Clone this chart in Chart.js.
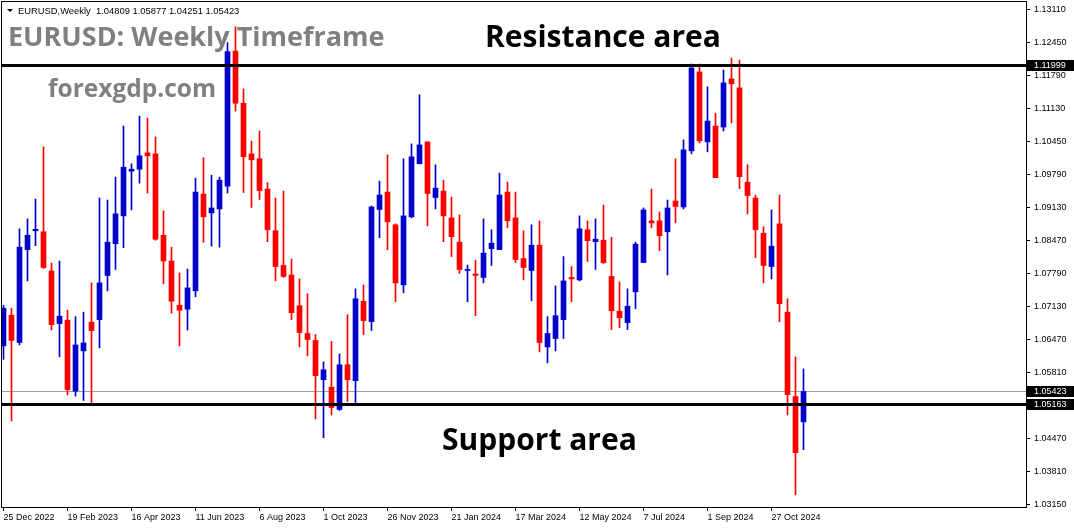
<!DOCTYPE html>
<html>
<head>
<meta charset="utf-8">
<script src="https://cdn.jsdelivr.net/npm/chart.js@4.4.1/dist/chart.umd.min.js"></script>
<style>
html, body { margin: 0; padding: 0; background: #fff; }
canvas { display: block; }
</style>
</head>
<body>
<canvas id="chart" width="1074" height="528"></canvas>
<script>
// weekly EURUSD candles, 25 Dec 2022 .. 24 Nov 2024
const opens = [
  1.0634, 1.0696, 1.0641, 1.0828, 1.0866, 1.0864, 1.0785, 1.0679, 1.0686, 1.0543,
  1.0624, 1.0682, 1.0687, 1.0776, 1.0840, 1.0896, 1.0986, 1.0990, 1.1023, 1.1021,
  1.0857, 1.0805, 1.0716, 1.0708, 1.0745, 1.0940, 1.0902, 1.0910, 1.0956, 1.1228,
  1.1123, 1.1021, 1.1011, 1.0950, 1.0866, 1.0796, 1.0777, 1.0715, 1.0659, 1.0645,
  1.0566, 1.0551, 1.0506, 1.0596, 1.0564, 1.0724, 1.0683, 1.0909, 1.0944, 1.0878,
  1.0757, 1.0894, 1.1001, 1.1045, 1.0933, 1.0946, 1.0892, 1.0843, 1.0786, 1.0779,
  1.0772, 1.0830, 1.0828, 1.0944, 1.0892, 1.0810, 1.0786, 1.0837, 1.0632, 1.0649,
  1.0687, 1.0772, 1.0767, 1.0868, 1.0844, 1.0847, 1.0774, 1.0704, 1.0681, 1.0743,
  1.0802, 1.0886, 1.0886, 1.0864, 1.0926, 1.0914, 1.1027, 1.1186, 1.1045, 1.1077,
  1.1075, 1.1172, 1.1154, 1.0964, 1.0932, 1.0861, 1.0794, 1.0880, 1.0702, 1.0532,
  1.04809
];
const highs = [
  1.0716, 1.0710, 1.0870, 1.0890, 1.0930, 1.1035, 1.0801, 1.0805, 1.0706, 1.0693,
  1.0702, 1.0761, 1.0932, 1.0928, 1.0974, 1.1077, 1.1001, 1.1097, 1.1093, 1.1055,
  1.0906, 1.0833, 1.0781, 1.0789, 1.0972, 1.1013, 1.0978, 1.0974, 1.1245, 1.1277,
  1.1152, 1.1047, 1.1067, 1.0963, 1.0932, 1.0946, 1.0809, 1.0769, 1.0739, 1.0657,
  1.0602, 1.0643, 1.0618, 1.0697, 1.0749, 1.0757, 1.0916, 1.0966, 1.1019, 1.0880,
  1.1011, 1.1041, 1.1140, 1.1045, 1.0999, 1.0968, 1.0934, 1.0898, 1.0797, 1.0807,
  1.0890, 1.0868, 1.0982, 1.0964, 1.0944, 1.0866, 1.0878, 1.0886, 1.0693, 1.0755,
  1.0814, 1.0794, 1.0896, 1.0886, 1.0890, 1.0918, 1.0853, 1.0763, 1.0749, 1.0843,
  1.0912, 1.0950, 1.0904, 1.0928, 1.1011, 1.1049, 1.1202, 1.1202, 1.1156, 1.1103,
  1.1190, 1.1214, 1.1210, 1.0999, 1.0938, 1.0874, 1.0908, 1.0938, 1.0729, 1.0612,
  1.05877
];
const lows = [
  1.0607, 1.0483, 1.0636, 1.0765, 1.0836, 1.0790, 1.0666, 1.0612, 1.0535, 1.0533,
  1.0524, 1.0518, 1.0630, 1.0745, 1.0788, 1.0832, 1.0908, 1.0962, 1.0942, 1.0847,
  1.0759, 1.0700, 1.0634, 1.0666, 1.0733, 1.0843, 1.0835, 1.0833, 1.0942, 1.1107,
  1.0943, 1.0913, 1.0929, 1.0844, 1.0765, 1.0772, 1.0687, 1.0632, 1.0614, 1.0487,
  1.0449, 1.0495, 1.0504, 1.0522, 1.0520, 1.0657, 1.0665, 1.0852, 1.0828, 1.0723,
  1.0741, 1.0892, 1.1001, 1.0876, 1.0910, 1.0844, 1.0814, 1.0780, 1.0723, 1.0695,
  1.0761, 1.0796, 1.0828, 1.0872, 1.0802, 1.0767, 1.0725, 1.0622, 1.0600, 1.0624,
  1.0649, 1.0723, 1.0765, 1.0804, 1.0788, 1.0800, 1.0667, 1.0671, 1.0667, 1.0709,
  1.0802, 1.0872, 1.0826, 1.0777, 1.0882, 1.0910, 1.1021, 1.1043, 1.1025, 1.1001,
  1.1067, 1.1083, 1.0951, 1.0900, 1.0812, 1.0761, 1.0769, 1.0683, 1.0495, 1.0334,
  1.04251
];
const closes = [
  1.0710, 1.0645, 1.0833, 1.0857, 1.0869, 1.0792, 1.0677, 1.0694, 1.0546, 1.0636,
  1.0640, 1.0665, 1.0761, 1.0843, 1.0900, 1.0994, 1.0990, 1.1017, 1.1017, 1.0849,
  1.0805, 1.0724, 1.0706, 1.0751, 1.0944, 1.0894, 1.0912, 1.0968, 1.1227, 1.1123,
  1.1015, 1.1009, 1.0947, 1.0868, 1.0794, 1.0774, 1.0701, 1.0661, 1.0647, 1.0574,
  1.0586, 1.0510, 1.0596, 1.0566, 1.0729, 1.0685, 1.0914, 1.0938, 1.0884, 1.0761,
  1.0896, 1.1015, 1.1039, 1.0941, 1.0952, 1.0896, 1.0854, 1.0788, 1.0788, 1.0776,
  1.0821, 1.0841, 1.0938, 1.0886, 1.0808, 1.0792, 1.0837, 1.0641, 1.0659, 1.0695,
  1.0765, 1.0769, 1.0870, 1.0846, 1.0849, 1.0802, 1.0705, 1.0691, 1.0714, 1.0839,
  1.0908, 1.0882, 1.0856, 1.0912, 1.0915, 1.1029, 1.1194, 1.1047, 1.1087, 1.0973,
  1.1164, 1.1162, 1.0975, 1.0937, 1.0868, 1.0796, 1.0835, 1.0719, 1.0536, 1.0419,
  1.05423
];

const dateIdx = [0, 8, 16, 24, 32, 40, 48, 56, 64, 72, 80, 88, 96];
const dateLabels = ['25 Dec 2022', '19 Feb 2023', '16 Apr 2023', '11 Jun 2023', '6 Aug 2023',
  '1 Oct 2023', '26 Nov 2023', '21 Jan 2024', '17 Mar 2024', '12 May 2024', '7 Jul 2024',
  '1 Sep 2024', '27 Oct 2024'];
const priceTicks = [1.03150, 1.03810, 1.04470, 1.05810, 1.06470, 1.07130, 1.07790, 1.08470,
  1.09130, 1.09790, 1.10450, 1.11130, 1.11790, 1.12450, 1.13110];

const resistance = 1.11999;
const support = 1.05163;
const lastPrice = 1.05423;

const BULL = '#0000cd';
const BEAR = '#ff0000';
const colors = opens.map((o, i) => closes[i] >= o ? BULL : BEAR);

const bodies = opens.map((o, i) => ({ x: i, y: [o, closes[i]] }));
const wicks = opens.map((o, i) => ({ x: i, y: [lows[i], highs[i]] }));

const overlay = {
  id: 'overlay',
  beforeDatasetsDraw(chart) {
    const { ctx, chartArea: a, scales: { y } } = chart;
    const py = Math.round(y.getPixelForValue(lastPrice)) + 0.5;
    ctx.save();
    ctx.strokeStyle = '#a0a0a0';
    ctx.lineWidth = 1;
    ctx.beginPath();
    ctx.moveTo(a.left, py);
    ctx.lineTo(a.right, py);
    ctx.stroke();
    ctx.restore();
  },
  afterDraw(chart) {
    const { ctx, chartArea: a, scales: { y } } = chart;
    ctx.save();

    // frame
    ctx.strokeStyle = '#000';
    ctx.lineWidth = 1;
    ctx.strokeRect(a.left - 0.5, a.top - 0.5, a.right - a.left + 1, a.bottom - a.top + 1);

    // support / resistance
    ctx.lineWidth = 3;
    [resistance, support].forEach(v => {
      const py = Math.round(y.getPixelForValue(v));
      ctx.beginPath();
      ctx.moveTo(a.left, py + 0.5);
      ctx.lineTo(a.right + 3, py + 0.5);
      ctx.stroke();
    });

    // price boxes on the axis
    ctx.font = '9px "Liberation Sans", Arial, sans-serif';
    ctx.textBaseline = 'middle';
    ctx.textAlign = 'left';
    [resistance, lastPrice, support].forEach(v => {
      const py = Math.round(y.getPixelForValue(v));
      ctx.fillStyle = '#000';
      ctx.fillRect(a.right + 1, py - 5, chart.width - a.right - 1, 11);
      ctx.fillStyle = '#fff';
      ctx.fillText(v.toFixed(5), a.right + 8, py + 1);
    });

    // header
    ctx.fillStyle = '#000';
    ctx.beginPath();
    ctx.moveTo(7, 9);
    ctx.lineTo(13, 9);
    ctx.lineTo(10, 12);
    ctx.closePath();
    ctx.fill();
    ctx.textBaseline = 'alphabetic';
    ctx.font = '9.4px "Liberation Sans", Arial, sans-serif';
    ctx.fillText('EURUSD,Weekly  ' + [opens[100], highs[100], lows[100], closes[100]].map(v => v.toFixed(5)).join(' '), 18, 14);

    ctx.fillStyle = '#808080';
    ctx.font = 'bold 27px "Open Sans", sans-serif';
    ctx.fillText('EURUSD: Weekly Timeframe', 8, 46);
    ctx.font = 'bold 24.5px "Open Sans", sans-serif';
    ctx.fillText('forexgdp.com', 48, 97);

    ctx.fillStyle = '#000';
    ctx.font = 'bold 30px "Open Sans", sans-serif';
    ctx.fillText('Resistance area', 485, 47);
    ctx.fillText('Support area', 442, 450);

    ctx.restore();
  }
};

new Chart(document.getElementById('chart'), {
  type: 'bar',
  data: {
    datasets: [{
      label: 'body',
      data: bodies,
      backgroundColor: colors,
      barThickness: 5,
      minBarLength: 1,
      borderWidth: 0,
      grouped: false
    }, {
      label: 'wick',
      data: wicks,
      backgroundColor: colors,
      barThickness: 1,
      borderWidth: 0,
      grouped: false
    }]
  },
  options: {
    responsive: false,
    devicePixelRatio: 1,
    animation: false,
    events: [],
    layout: { padding: { left: 2, top: 2, right: 0, bottom: 0 } },
    plugins: {
      legend: { display: false },
      tooltip: { enabled: false }
    },
    scales: {
      x: {
        type: 'linear',
        offset: false,
        min: -0.1875,
        max: 127.8125,
        afterBuildTicks: s => { s.ticks = dateIdx.map(v => ({ value: v })); },
        afterFit: s => { s.height = 21; s.paddingLeft = 0; s.paddingRight = 0; },
        grid: { offset: false, drawOnChartArea: false, drawTicks: true, tickLength: 4, color: '#000' },
        border: { color: '#000' },
        ticks: {
          autoSkip: false,
          maxRotation: 0,
          align: 'start',
          padding: 1,
          color: '#000',
          font: { family: '"Liberation Sans", Arial, sans-serif', size: 9 },
          callback: v => dateLabels[dateIdx.indexOf(v)]
        }
      },
      y: {
        position: 'right',
        min: 1.03095,
        max: 1.13269,
        afterBuildTicks: s => { s.ticks = priceTicks.map(v => ({ value: v })); },
        afterFit: s => { s.width = 48; s.paddingTop = 0; s.paddingBottom = 0; },
        grid: { drawOnChartArea: false, drawTicks: true, tickLength: 4, color: '#000' },
        border: { color: '#000' },
        ticks: {
          padding: 4,
          color: '#000',
          font: { family: '"Liberation Sans", Arial, sans-serif', size: 9 },
          callback: v => v.toFixed(5)
        }
      }
    }
  },
  plugins: [overlay]
});
</script>
</body>
</html>
